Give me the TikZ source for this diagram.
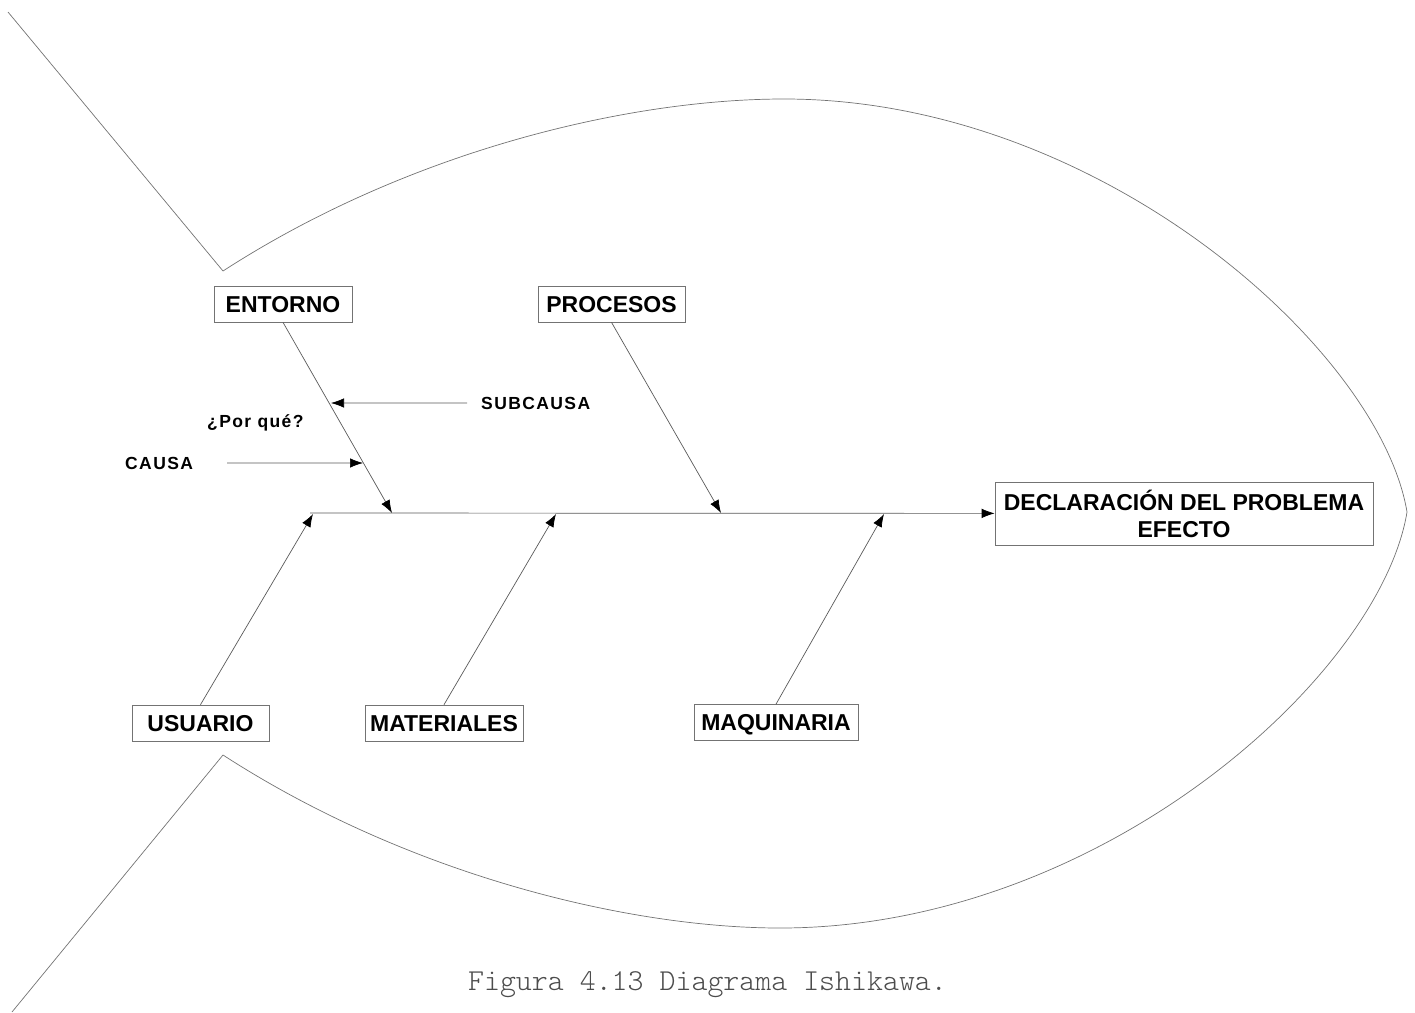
\documentclass[tikz,border=0pt]{standalone}
\usepackage{fontspec}
\setmainfont{Liberation Sans}
\newfontfamily\notafont[LetterSpace=8,BoldFont={Liberation Sans Bold}]{Liberation Sans}
\usetikzlibrary{arrows.meta}

\begin{document}
\begin{tikzpicture}[x=1pt,y=-1pt]
\tikzset{caja/.style = {draw=black!55, line width=0.7pt, fill=white, inner sep=0pt, font=\fontsize{23}{27}\selectfont\bfseries}}
\tikzset{causa/.style = {caja, minimum height=36pt, text height=16.5pt, text depth=0pt}}
\tikzset{nota/.style = {anchor=base west, inner sep=0pt, font=\notafont\fontsize{17.5}{20}\selectfont\bfseries}}
\tikzset{edge/.style = {-{Latex[length=13pt,width=9.5pt,color=black]}, draw=black!65, line width=0.7pt}}
\useasboundingbox (0,0) rectangle (1415,1012);

% fish body
\draw[black!55, line width=0.7pt] (8,12) -- (223,271)
  .. controls (410,150) and (630,99) .. (784,99)
  .. controls (1100,99) and (1380,350) .. (1407,512)
  .. controls (1380,676) and (1100,928) .. (780,928)
  .. controls (630,928) and (410,876) .. (223,755) -- (12,1012);

% causes
\node[causa, minimum width=138pt] (entorno) at (283,304) {ENTORNO};
\node[causa, minimum width=147pt] (procesos) at (611.5,304) {PROCESOS};
\node[causa, minimum width=137pt] (usuario) at (200.5,723) {USUARIO};
\node[causa, minimum width=158pt] (materiales) at (444,723) {MATERIALES};
\node[causa, minimum width=164pt] (maquinaria) at (776,722.5) {MAQUINARIA};
\node[caja, minimum width=378pt, minimum height=63pt, align=center] (efecto) at (1184,513.5) {DECLARACIÓN DEL PROBLEMA\\EFECTO};

% spine
\coordinate (cola) at (310,513);
\coordinate (e1) at (392,513);
\coordinate (e2) at (721,513);
\coordinate (e3) at (313,514);
\coordinate (e4) at (556,514);
\coordinate (e5) at (884,514);

\draw[edge] (cola) -- (efecto);
\draw[edge] (entorno.south) -- (e1);
\draw[edge] (procesos.south) -- (e2);
\draw[edge] (usuario.north) -- (e3);
\draw[edge] (materiales.north) -- (e4);
\draw[edge] (maquinaria.north) -- (e5);

% sub causes
\node[nota] (subcausa) at (481,409) {SUBCAUSA};
\node[nota] (porque) at (207,427) {¿Por qué?};
\node[nota] (causa) at (125,469) {CAUSA};
\coordinate (s1) at (331,403);
\coordinate (s2) at (363,463);
\draw[edge, shorten <=14pt] (subcausa) -- (s1);
\draw[edge, shorten <=34pt] (causa) -- (s2);

% caption
\node[anchor=base, inner sep=0pt, text=black!70, font=\ttfamily\fontseries{l}\fontsize{30.4}{34}\selectfont] (pie) at (707.5,990) {Figura 4.13 Diagrama Ishikawa.};
\end{tikzpicture}
\end{document}
